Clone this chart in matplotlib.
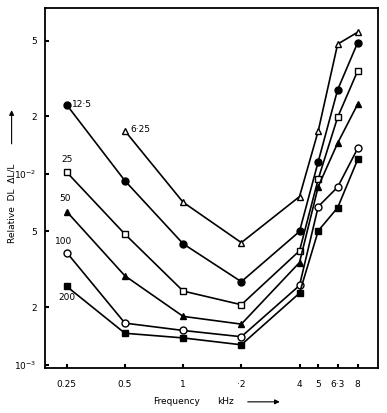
import matplotlib
matplotlib.use("Agg")
import matplotlib.pyplot as plt

freqs = [0.25, 0.5, 1, 2, 4, 5, 6.3, 8]
freq_labels = ["0.25", "0.5", "1", "·2", "4", "5", "6·3", "8"]

s6_25_f = [0.5, 1, 2, 4, 5, 6.3, 8]
s6_25 = [1.68e-2, 7.1e-3, 4.36e-3, 7.6e-3, 1.68e-2, 4.79e-2, 5.53e-2]
s12_5 = [2.30e-2, 9.2e-3, 4.30e-3, 2.72e-3, 4.99e-3, 1.16e-2, 2.76e-2, 4.88e-2]
s25 = [1.02e-2, 4.83e-3, 2.43e-3, 2.06e-3, 3.95e-3, 9.4e-3, 1.98e-2, 3.47e-2]
s50 = [6.34e-3, 2.92e-3, 1.79e-3, 1.63e-3, 3.43e-3, 8.58e-3, 1.45e-2, 2.32e-2]
s100 = [3.87e-3, 1.65e-3, 1.51e-3, 1.40e-3, 2.60e-3, 6.74e-3, 8.52e-3, 1.36e-2]
s200 = [2.57e-3, 1.46e-3, 1.38e-3, 1.27e-3, 2.37e-3, 5.03e-3, 6.65e-3, 1.19e-2]

ytick_vals = [1e-3, 2e-3, 5e-3, 1e-2, 2e-2, 5e-2]
ytick_labels = ["10$^{-3}$", "2", "5", "10$^{-2}$", "2", "5"]

plt.rcParams['font.family'] = ['DejaVu Sans']
fig = plt.figure(figsize=(3.87, 4.13), dpi=100)
ax = fig.add_axes([0.1163, 0.109, 0.977 - 0.1163, 0.981 - 0.109])
ax.set_xscale('log')
ax.set_yscale('log')

lw = 1.2
ms = 5
kw = dict(color='black', lw=lw, ms=ms, mec='black')
ax.plot(s6_25_f, s6_25, marker='^', mfc='white', **kw)
ax.plot(freqs, s12_5, marker='o', mfc='black', **kw)
ax.plot(freqs, s25, marker='s', mfc='white', **kw)
ax.plot(freqs, s50, marker='^', mfc='black', **kw)
ax.plot(freqs, s100, marker='o', mfc='white', **kw)
ax.plot(freqs, s200, marker='s', mfc='black', **kw)

fs = 6.5
ax.annotate("12·5", (freqs[0], s12_5[0]), xytext=(4, 0), textcoords='offset points', fontsize=fs, va='center', ha='left')
ax.annotate("6·25", (s6_25_f[0], s6_25[0]), xytext=(4, 1), textcoords='offset points', fontsize=fs, va='center', ha='left')
ax.annotate("25", (freqs[0], s25[0]), xytext=(0, 6), textcoords='offset points', fontsize=fs, va='bottom', ha='center')
ax.annotate("50", (freqs[0], s50[0]), xytext=(-1, 6), textcoords='offset points', fontsize=fs, va='bottom', ha='center')
ax.annotate("100", (freqs[0], s100[0]), xytext=(-2, 5), textcoords='offset points', fontsize=fs, va='bottom', ha='center')
ax.annotate("200", (freqs[0], s200[0]), xytext=(0, -5), textcoords='offset points', fontsize=fs, va='top', ha='center')

ax.set_xlim(0.193, 10.2)
ax.set_ylim(0.96e-3, 7.42e-2)
ax.minorticks_off()
ax.set_xticks(freqs)
ax.set_xticklabels(freq_labels, fontsize=fs)
ax.set_yticks(ytick_vals)
ax.set_yticklabels(ytick_labels, fontsize=fs)
ax.tick_params(direction='in', length=3, width=1.5, pad=6)
ax.tick_params(axis='x', pad=9)
for sp in ax.spines.values():
    sp.set_linewidth(1.3)

fig.text(0.457, 0.027, "Frequency", fontsize=fs, ha='center', va='center')
fig.text(0.583, 0.027, "kHz", fontsize=fs, ha='center', va='center')
fig.patches.append(matplotlib.patches.FancyArrowPatch((0.633, 0.027), (0.73, 0.027), transform=fig.transFigure,
                                                       arrowstyle='-|>', mutation_scale=7, color='black', lw=0.8))
fig.text(0.03, 0.508, "Relative  DL  ΔL/L", fontsize=fs, rotation=90, ha='center', va='center')
fig.patches.append(matplotlib.patches.FancyArrowPatch((0.03, 0.645), (0.03, 0.74), transform=fig.transFigure,
                                                       arrowstyle='-|>', mutation_scale=7, color='black', lw=0.8))

fig.savefig("out.png", dpi=100)
